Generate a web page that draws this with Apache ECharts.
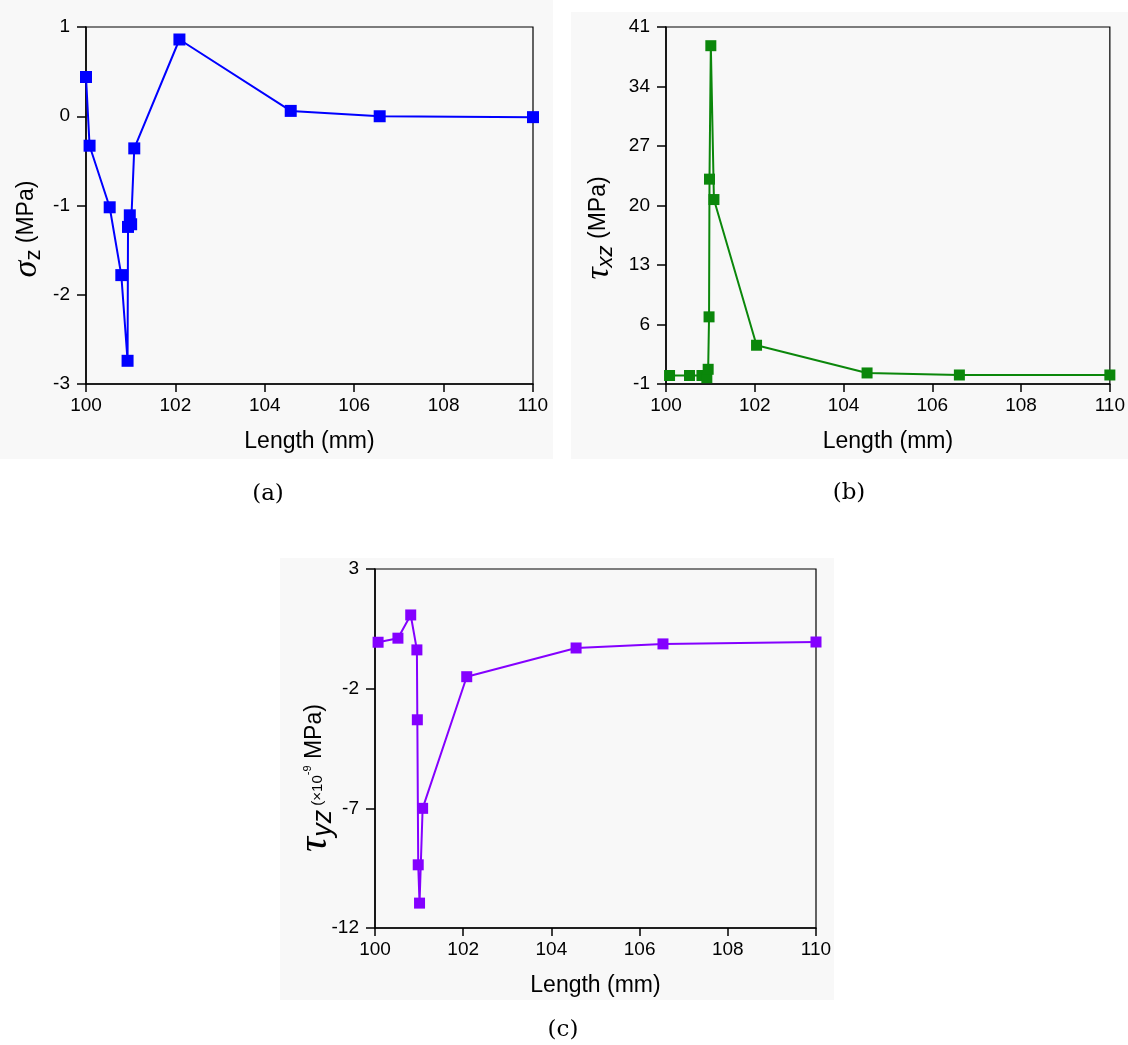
<!DOCTYPE html>
<html><head><meta charset="utf-8">
<script src="https://cdn.jsdelivr.net/npm/echarts@6/dist/echarts.min.js"></script>
<style>html,body{margin:0;padding:0;background:#fff}#c{width:1128px;height:1045px}</style>
</head><body><div id="c"></div>
<script>
// ---- data ----
const lengthTicks = [100, 102, 104, 106, 108, 110];
const sigmaTicks = [-3, -2, -1, 0, 1];
const tauXZTicks = [-1, 6, 13, 20, 27, 34, 41];
const tauYZTicks = [-12, -7, -2, 3];

// (a) sigma_z (MPa)
const lengthA = [100.0, 100.08, 100.53, 100.79, 100.93, 100.94, 100.98, 101.01, 101.08, 102.09, 104.58, 106.57, 110.0];
const sigmaZ  = [0.44, -0.33, -1.02, -1.78, -2.74, -1.24, -1.11, -1.21, -0.36, 0.86, 0.06, 0.0, -0.01];

// (b) tau_xz (MPa)
const lengthB = [100.08, 100.53, 100.81, 100.92, 100.95, 100.97, 100.98, 101.01, 101.08, 102.04, 104.53, 106.61, 110.0];
const tauXZ   = [0.0, 0.0, 0.0, -0.26, 0.73, 6.9, 23.1, 38.8, 20.7, 3.56, 0.3, 0.06, 0.06];

// (c) tau_yz (x10^-9 MPa)
const lengthC = [100.07, 100.52, 100.81, 100.95, 100.96, 100.98, 101.01, 101.08, 102.08, 104.56, 106.53, 110.0];
const tauYZ   = [-0.06, 0.11, 1.08, -0.38, -3.3, -9.36, -10.96, -7.0, -1.5, -0.3, -0.13, -0.05];

// ---- chart ----
const chart = echarts.init(document.getElementById('c'), null, {renderer: 'canvas'});
const SANS = 'Liberation Sans';
const pair = (xs, ys) => xs.map((x, i) => [x, ys[i]]);

function xAxisCfg(gi) {
  return {
    type: 'value', gridIndex: gi, min: lengthTicks[0], max: lengthTicks[lengthTicks.length - 1],
    interval: lengthTicks[1] - lengthTicks[0],
    axisLine: {show: true, onZero: false, lineStyle: {color: '#000', width: 1.5}},
    axisTick: {show: true, length: 8, lineStyle: {color: '#000', width: 1.5}},
    axisLabel: {color: '#000', fontSize: 19, fontFamily: SANS, margin: 12},
    splitLine: {show: false},
    name: 'Length (mm)', nameLocation: 'middle', nameGap: 46,
    nameTextStyle: {color: '#000', fontSize: 23, fontFamily: SANS}
  };
}
function yAxisCfg(gi, ticks) {
  return {
    type: 'value', gridIndex: gi, min: ticks[0], max: ticks[ticks.length - 1],
    axisLine: {show: true, onZero: false, lineStyle: {color: '#000', width: 1.5}},
    axisTick: {show: true, length: 9, customValues: ticks, lineStyle: {color: '#000', width: 1.5}},
    axisLabel: {color: '#000', fontSize: 19, fontFamily: SANS, margin: 16, customValues: ticks},
    splitLine: {show: false}
  };
}
function seriesCfg(gi, xs, ys, color, size) {
  return {
    type: 'line', xAxisIndex: gi, yAxisIndex: gi, data: pair(xs, ys),
    symbol: 'rect', symbolSize: size, showSymbol: true,
    lineStyle: {color: color, width: 2}, itemStyle: {color: color},
    animation: false, clip: true
  };
}
const gridStyle = {show: true, borderColor: '#000', borderWidth: 1.2, backgroundColor: 'transparent'};

chart.setOption({
  animation: false,
  backgroundColor: '#fff',
  grid: [
    Object.assign({left: 86, top: 27, width: 447, height: 357}, gridStyle),
    Object.assign({left: 666, top: 27, width: 444, height: 357}, gridStyle),
    Object.assign({left: 375, top: 569, width: 441, height: 359}, gridStyle)
  ],
  xAxis: [xAxisCfg(0), xAxisCfg(1), xAxisCfg(2)],
  yAxis: [yAxisCfg(0, sigmaTicks), yAxisCfg(1, tauXZTicks), yAxisCfg(2, tauYZTicks)],
  series: [
    seriesCfg(0, lengthA, sigmaZ, '#0000ff', 12),
    seriesCfg(1, lengthB, tauXZ, '#0b870b', 11),
    seriesCfg(2, lengthC, tauYZ, '#8400ff', 11)
  ],
  graphic: [
    {type: 'rect', z: -100, shape: {x: 0, y: 0, width: 553, height: 459}, style: {fill: '#f8f8f8'}},
    {type: 'rect', z: -100, shape: {x: 571, y: 12, width: 557, height: 447}, style: {fill: '#f8f8f8'}},
    {type: 'rect', z: -100, shape: {x: 280, y: 558, width: 554, height: 442}, style: {fill: '#f8f8f8'}},
    // y-axis titles
    {type: 'text', x: 27, y: 229, rotation: Math.PI / 2, z: 10, style: {
      text: '{g|σ}{s|z}{u| (MPa)}', align: 'center', verticalAlign: 'middle',
      rich: {
        g: {fontSize: 34, fontStyle: 'italic', fontFamily: 'Liberation Serif', fill: '#000'},
        s: {fontSize: 22, fontFamily: SANS, fill: '#000', padding: [14, 0, 0, 0]},
        u: {fontSize: 23, fontFamily: SANS, fill: '#000'}
      }}},
    {type: 'text', x: 599, y: 228, rotation: Math.PI / 2, z: 10, style: {
      text: '{g|τ}{s|xz}{u| (MPa)}', align: 'center', verticalAlign: 'middle',
      rich: {
        g: {fontSize: 34, fontStyle: 'italic', fontFamily: 'Liberation Serif', fill: '#000'},
        s: {fontSize: 22, fontStyle: 'italic', fontFamily: SANS, fill: '#000', padding: [14, 0, 0, 0]},
        u: {fontSize: 23, fontFamily: SANS, fill: '#000'}
      }}},
    {type: 'text', x: 315, y: 778, rotation: Math.PI / 2, z: 10, style: {
      text: '{g|τ}{s|yz}{m| (×10}{p|-9}{u| MPa)}', align: 'center', verticalAlign: 'middle',
      rich: {
        g: {fontSize: 42, fontStyle: 'italic', fontFamily: 'Liberation Serif', fill: '#000'},
        s: {fontSize: 27, fontStyle: 'italic', fontFamily: SANS, fill: '#000', padding: [16, 0, 0, 0]},
        m: {fontSize: 15, fontFamily: SANS, fill: '#000', padding: [6, 0, 0, 0]},
        p: {fontSize: 11, fontFamily: SANS, fill: '#000', padding: [0, 0, 14, 0]},
        u: {fontSize: 23, fontFamily: SANS, fill: '#000'}
      }}},
    // panel captions
    {type: 'text', x: 268, y: 494, z: 10, style: {text: '(a)', font: '23px "DejaVu Serif"', fill: '#000', align: 'center', verticalAlign: 'middle'}},
    {type: 'text', x: 849, y: 493, z: 10, style: {text: '(b)', font: '23px "DejaVu Serif"', fill: '#000', align: 'center', verticalAlign: 'middle'}},
    {type: 'text', x: 563, y: 1030, z: 10, style: {text: '(c)', font: '23px "DejaVu Serif"', fill: '#000', align: 'center', verticalAlign: 'middle'}}
  ]
});
</script>
</body></html>
